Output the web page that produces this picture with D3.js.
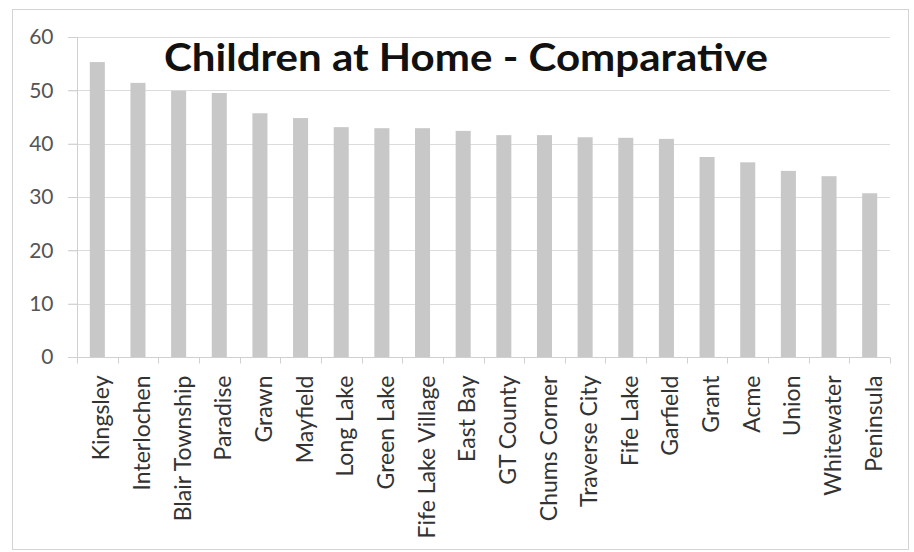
<!DOCTYPE html>
<html>
<head>
<meta charset="utf-8">
<script src="https://cdn.jsdelivr.net/npm/d3@7"></script>
<style>
  html, body { margin: 0; padding: 0; background: #fff; }
  svg { display: block; }
</style>
</head>
<body>
<svg id="chart" width="914" height="552"></svg>
<script>
// Communities, in chart order
const categories = [
  "Kingsley", "Interlochen", "Blair Township", "Paradise", "Grawn",
  "Mayfield", "Long Lake", "Green Lake", "Fife Lake Village", "East Bay",
  "GT County", "Chums Corner", "Traverse City", "Fife Lake", "Garfield",
  "Grant", "Acme", "Union", "Whitewater", "Peninsula"
];
// Share of households with children at home
const values = [
  55.3, 51.4, 49.9, 49.5, 45.7,
  44.8, 43.1, 42.9, 42.9, 42.4,
  41.6, 41.6, 41.2, 41.1, 40.9,
  37.5, 36.5, 34.9, 33.9, 30.7
];
const yTicks = [0, 10, 20, 30, 40, 50, 60];
const titleText = "Children at Home - Comparative";

const svg = d3.select("#chart");
const plot = { left: 77, right: 890, top: 37, bottom: 357 };
const font = "Lato, 'Open Sans', sans-serif";

// Outer chart frame
svg.append("rect")
  .attr("x", 12.5).attr("y", 9.5)
  .attr("width", 896).attr("height", 540)
  .attr("fill", "#fff")
  .attr("stroke", "#d4d4d4").attr("stroke-width", 1);

const x = d3.scaleBand()
  .domain(categories)
  .range([plot.left, plot.right])
  .paddingInner(0.63)
  .paddingOuter(0.315);

const y = d3.scaleLinear()
  .domain([0, 60])
  .range([plot.bottom, plot.top]);

// Horizontal gridlines
svg.append("g")
  .selectAll("line")
  .data(yTicks.filter(d => d > 0))
  .join("line")
  .attr("x1", plot.left - 9).attr("x2", plot.right)
  .attr("y1", d => Math.round(y(d)) + 0.5)
  .attr("y2", d => Math.round(y(d)) + 0.5)
  .attr("stroke", "#dcdcdc").attr("stroke-width", 1);

// Bars
svg.append("g")
  .selectAll("rect")
  .data(categories.map((c, i) => ({ c, v: values[i] })))
  .join("rect")
  .attr("x", d => x(d.c))
  .attr("width", x.bandwidth())
  .attr("y", d => y(d.v))
  .attr("height", d => y(0) - y(d.v))
  .attr("fill", "#c8c8c8");

// Y axis
const yAxis = svg.append("g")
  .attr("transform", `translate(${plot.left + 0.5},0)`)
  .call(d3.axisLeft(y).tickValues(yTicks).tickSize(9).tickPadding(15));
yAxis.select(".domain").attr("stroke", "#d0d0d0").attr("d", `M0,${plot.top}V${plot.bottom}`);
yAxis.selectAll(".tick line").attr("stroke", "#d0d0d0");
yAxis.selectAll(".tick text")
  .attr("fill", "#555")
  .style("font-family", font)
  .style("font-size", "21px");

// X axis with ticks at band boundaries
const xAxisG = svg.append("g")
  .attr("transform", `translate(0,${plot.bottom + 0.5})`);
xAxisG.append("line")
  .attr("x1", plot.left - 9).attr("x2", plot.right)
  .attr("stroke", "#d0d0d0");
const step = x.step();
const boundaries = d3.range(categories.length + 1).map(i => plot.left + i * step);
xAxisG.selectAll("line.tk")
  .data(boundaries)
  .join("line")
  .attr("class", "tk")
  .attr("x1", d => Math.round(d) + 0.5).attr("x2", d => Math.round(d) + 0.5)
  .attr("y1", 0).attr("y2", 6)
  .attr("stroke", "#d0d0d0");

// Rotated category labels
xAxisG.selectAll("text")
  .data(categories)
  .join("text")
  .attr("transform", d => `translate(${x(d) + x.bandwidth() / 2 + 4},${18}) rotate(-90)`)
  .attr("text-anchor", "end")
  .attr("dy", "0.35em")
  .attr("fill", "#333")
  .style("font-family", font)
  .style("font-size", "23px")
  .text(d => d);

// Title
svg.append("text")
  .attr("x", 466).attr("y", 71)
  .attr("text-anchor", "middle")
  .attr("fill", "#111")
  .style("font-family", font)
  .style("font-weight", "700")
  .style("font-size", "38px")
  .attr("textLength", 604)
  .attr("lengthAdjust", "spacingAndGlyphs")
  .text(titleText);
</script>
</body>
</html>
